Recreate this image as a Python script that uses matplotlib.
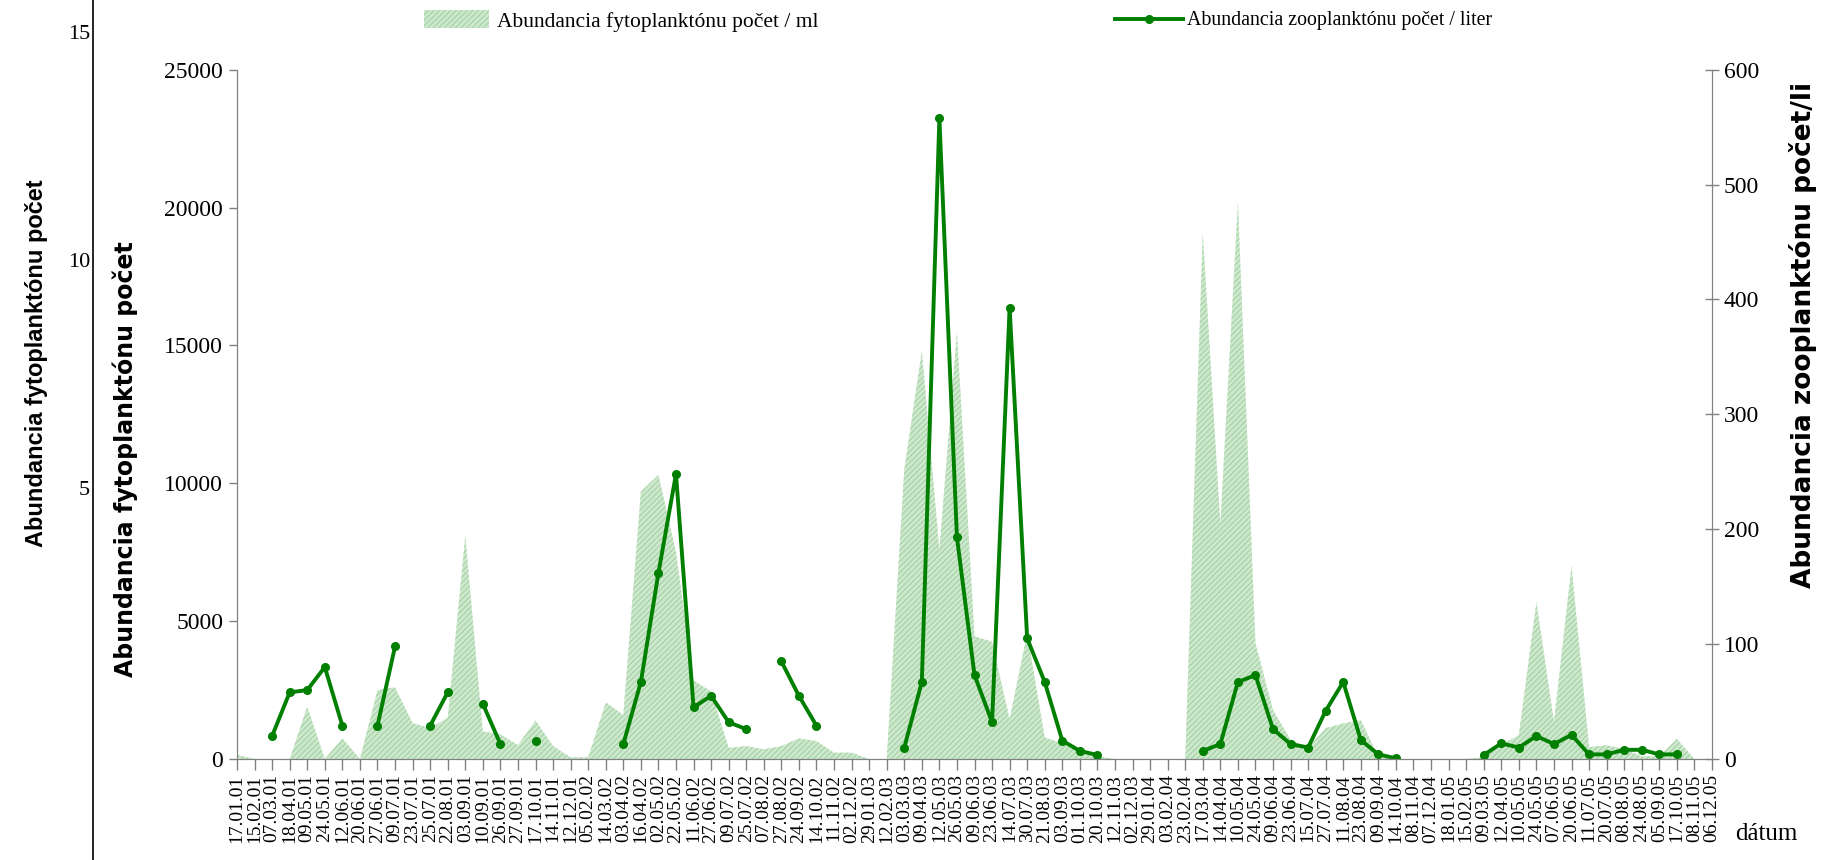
import numpy as np
import matplotlib
matplotlib.use('Agg')
import matplotlib.pyplot as plt
from matplotlib.patches import Patch
from matplotlib.lines import Line2D

# dátumy odberov
datumy = ['17.01.01', '15.02.01', '07.03.01', '18.04.01', '09.05.01', '24.05.01', '12.06.01',
          '20.06.01', '27.06.01', '09.07.01', '23.07.01', '25.07.01', '22.08.01', '03.09.01',
          '10.09.01', '26.09.01', '27.09.01', '17.10.01', '14.11.01', '12.12.01', '05.02.02',
          '14.03.02', '03.04.02', '16.04.02', '02.05.02', '22.05.02', '11.06.02', '27.06.02',
          '09.07.02', '25.07.02', '07.08.02', '27.08.02', '24.09.02', '14.10.02', '11.11.02',
          '02.12.02', '29.01.03', '12.02.03', '03.03.03', '09.04.03', '12.05.03', '26.05.03',
          '09.06.03', '23.06.03', '14.07.03', '30.07.03', '21.08.03', '03.09.03', '01.10.03',
          '20.10.03', '12.11.03', '02.12.03', '29.01.04', '03.02.04', '23.02.04', '17.03.04',
          '14.04.04', '10.05.04', '24.05.04', '09.06.04', '23.06.04', '15.07.04', '27.07.04',
          '11.08.04', '23.08.04', '09.09.04', '14.10.04', '08.11.04', '07.12.04', '18.01.05',
          '15.02.05', '09.03.05', '12.04.05', '10.05.05', '24.05.05', '07.06.05', '20.06.05',
          '11.07.05', '20.07.05', '08.08.05', '24.08.05', '05.09.05', '17.10.05', '08.11.05',
          '06.12.05']

# fytoplanktón, počet / ml
fyto = [150, 0, 0, 0, 1900, 0, 750, 0, 2500, 2600, 1300, 1120, 1500, 8100,
        1000, 900, 500, 1400, 470, 60, 60, 2050, 1600, 9700, 10300, 7500, 2850, 2450,
        400, 470, 350, 470, 750, 650, 230, 230, 0, 0, 10500, 14800, 7600, 15500,
        4450, 4250, 1450, 4550, 780, 570, 270, 90, 0, 0, 0, 0, 0, 19100,
        8500, 20200, 4200, 1780, 690, 400, 1120, 1290, 1410, 80, 0, 0, 0, 0,
        0, 70, 500, 870, 5700, 1350, 7000, 430, 500, 360, 100, 100, 730, 0,
        0]

# zooplanktón, počet / liter (None = bez odberu)
zoo = [None, None, 20, 58, 60, 80, 29, None, 29, 98, None, 29, 58, None,
       48, 13, None, 16, None, None, None, None, 13, 67, 162, 248, 45, 55,
       32, 26, None, 85, 55, 29, None, None, None, None, 10, 67, 558, 193,
       73, 32, 393, 105, 67, 16, 7, 3.5, None, None, None, None, None, 7,
       13, 67, 73, 26, 13, 10, 42, 67, 16.5, 4, 0.6, None, None, None,
       None, 3.5, 13.6, 10, 20, 13, 21, 4, 4, 8, 8, 4, 4, None,
       None]

x = np.arange(len(datumy))
zoo_y = np.array([np.nan if v is None else v for v in zoo], dtype=float)

plt.rcParams['hatch.linewidth'] = 0.7
serif = ['Liberation Serif', 'DejaVu Serif']
narrow = ['Liberation Sans Narrow', 'Liberation Sans', 'DejaVu Sans']
siroke = ['DejaVu Sans']
plocha = '#cde8cd'
srafa = '#9fcf9f'
zelena = '#007f00'
seda = '#808080'
W, H = 1822, 860

fig = plt.figure(figsize=(W / 100, H / 100), dpi=100)

# stara os uplne vlavo
ax0 = fig.add_axes([93 / W, 0, 0.0001, 1])
for s in ['top', 'right', 'bottom']:
    ax0.spines[s].set_visible(False)
ax0.spines['left'].set_color('black')
ax0.spines['left'].set_linewidth(1.2)
ax0.set_ylim(-3.17, 15.71)
ax0.set_yticks([5, 10, 15])
ax0.set_xticks([])
ax0.tick_params(axis='y', length=0, pad=2, labelsize=16)
for t in ax0.get_yticklabels():
    t.set_family(serif)
ax0.set_facecolor('none')
fig.text(37 / W, 1 - 363 / H, 'Abundancia fytoplanktónu počet', rotation=90,
         ha='center', va='center', fontsize=17, fontweight='bold', family=narrow)

ax = fig.add_axes([237 / W, 1 - 759 / H, (1712 - 237) / W, (759 - 69.7) / H])
ax.fill_between(x, fyto, 0, facecolor=plocha, edgecolor=srafa, hatch='//////', linewidth=0)
ax.set_xlim(0, len(datumy) - 1)
ax.set_ylim(0, 25000)
ax.set_yticks(np.arange(0, 25001, 5000))
ax.set_xticks(x)
ax.set_xticklabels(datumy, rotation=90, family=serif, fontsize=14)
ax.tick_params(axis='x', direction='out', length=8, width=1, color=seda, pad=3)
ax.tick_params(axis='y', direction='out', length=6, width=1, color=seda, labelsize=17, pad=4)
for t in ax.get_yticklabels():
    t.set_family(serif)
ax.spines['top'].set_visible(False)
for s in ['left', 'bottom', 'right']:
    ax.spines[s].set_color(seda)
fig.text(125 / W, 1 - 459 / H, 'Abundancia fytoplanktónu počet', rotation=90,
         ha='center', va='center', fontsize=17, fontweight='bold', family=siroke)

ax2 = ax.twinx()
ax2.plot(x, zoo_y, color=zelena, linewidth=2.8, marker='o', markersize=5.5)
ax2.set_ylim(0, 600)
ax2.set_yticks(np.arange(0, 601, 100))
ax2.tick_params(axis='y', direction='inout', length=10, width=1, color=seda, labelsize=17)
for t in ax2.get_yticklabels():
    t.set_family(serif)
ax2.spines['top'].set_visible(False)
for s in ['left', 'bottom', 'right']:
    ax2.spines[s].set_color(seda)
fig.text(1803 / W, 1 - 335 / H, 'Abundancia zooplanktónu počet/li', rotation=90,
         ha='center', va='center', fontsize=19, fontweight='bold', family=siroke)

fig.text(1766 / W, 1 - 834 / H, 'dátum', ha='center', va='center', fontsize=18, family=serif)

# legenda hore, kazda polozka zvlast
h1 = Patch(facecolor=plocha, edgecolor=srafa, hatch='//////', linewidth=0)
h2 = Line2D([], [], color=zelena, linewidth=2.8, marker='o', markersize=5.5)
fig.legend([h1], ['Abundancia fytoplanktónu počet / ml'],
           loc='center left', bbox_to_anchor=(424 / W, 1 - 21 / H), frameon=False,
           prop={'family': serif, 'size': 15.5}, handlelength=3.0, handleheight=0.9,
           handletextpad=0.4, borderaxespad=0, borderpad=0)
fig.legend([h2], ['Abundancia zooplanktónu počet / liter'],
           loc='center left', bbox_to_anchor=(1115 / W, 1 - 21 / H), frameon=False,
           prop={'family': serif, 'size': 14.3}, handlelength=3.4,
           handletextpad=0.25, borderaxespad=0, borderpad=0)

fig.savefig('out.png', dpi=100)
